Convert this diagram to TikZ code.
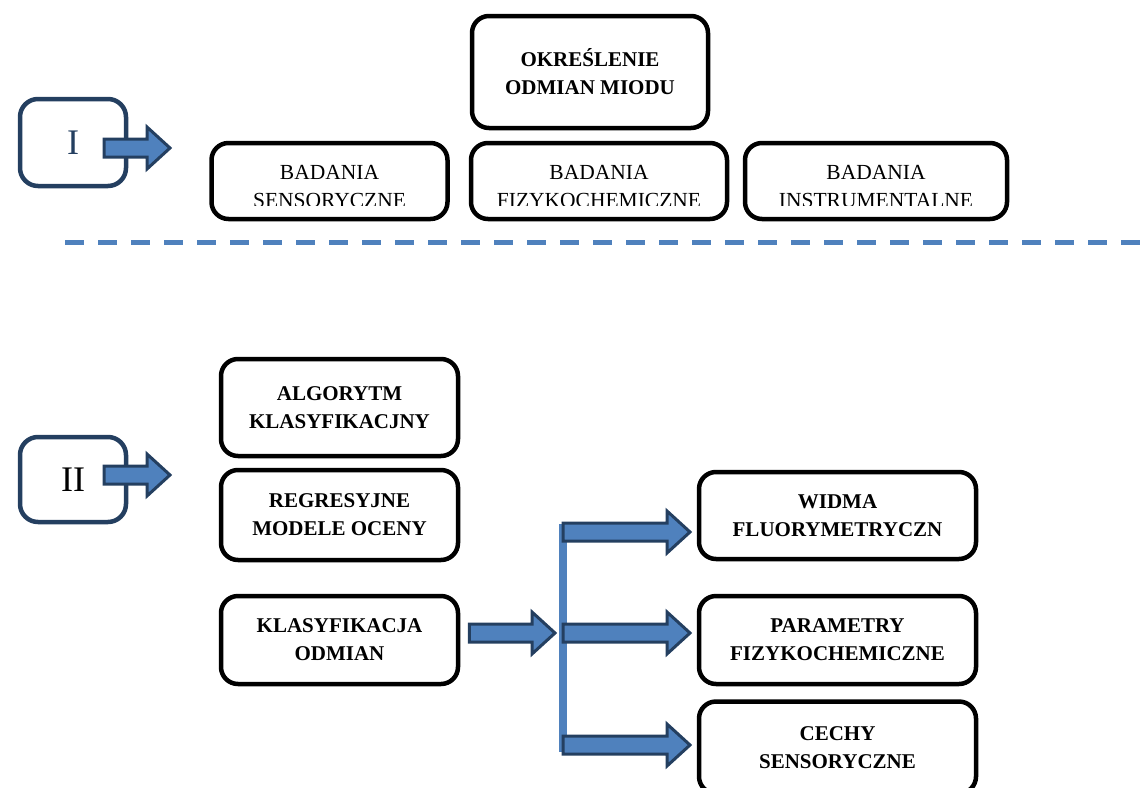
\documentclass[tikz,border=0pt]{standalone}
\usepackage{fontspec}
\setmainfont{Liberation Serif}
\usetikzlibrary{calc}
\definecolor{accentblue}{HTML}{4F81BD}
\definecolor{navyline}{HTML}{243F60}
\tikzset{
  box/.style={draw=black, line width=4.5pt, rounded corners=17pt, align=center, inner sep=0pt,
    font=\bfseries\fontsize{21}{28}\selectfont},
  stagebox/.style={draw=navyline, line width=4.5pt, rounded corners=18pt, inner sep=0pt,
    font=\fontsize{36}{40}\selectfont},
  plaintext/.style={align=center, inner sep=0pt, anchor=north, font=\fontsize{21.5}{28}\selectfont},
  blockarrow/.style={draw=navyline, fill=accentblue, line width=3pt, line join=miter}
}
\newcommand\blockarrow[2]{%
  \draw[blockarrow] ($(#1)+(0,-9)$) -- ($(#2)+(-23,-9)$) -- ($(#2)+(-23,-21)$) -- (#2)
    -- ($(#2)+(-23,21)$) -- ($(#2)+(-23,9)$) -- ($(#1)+(0,9)$) -- cycle;}
\begin{document}
\begin{tikzpicture}[x=1pt,y=-1pt]
\useasboundingbox (0,0) rectangle (1147,787);
% stage I
\node[stagebox, text=navyline, minimum width=106pt, minimum height=87pt] (st1) at (73,142.5) {I};
\coordinate (a1s) at (104,148);
\coordinate (a1e) at (170,148);
\blockarrow{a1s}{a1e}
\node[box, minimum width=236pt, minimum height=112pt] (okr) at (590,72) {OKREŚLENIE\\ODMIAN MIODU};
\node[box, font=\normalfont, minimum width=236pt, minimum height=76pt] (bsen) at (329.5,181) {};
\node[box, font=\normalfont, minimum width=256pt, minimum height=76pt] (bfiz) at (599,181) {};
\node[box, font=\normalfont, minimum width=262pt, minimum height=76pt] (bins) at (876,181) {};
\begin{scope}
  \clip (0,0) rectangle (1147,205);
  \node[plaintext] (tsen) at (bsen.center |- 0,164.7) {BADANIA\\SENSORYCZNE};
  \node[plaintext] (tfiz) at (bfiz.center |- 0,164.7) {BADANIA\\FIZYKOCHEMICZNE};
  \node[plaintext] (tins) at (bins.center |- 0,164.7) {BADANIA\\INSTRUMENTALNE};
\end{scope}
\draw[accentblue, line width=5pt, dash pattern=on 19pt off 14pt] (65,242) -- (1147,242);
% stage II
\node[stagebox, minimum width=106pt, minimum height=85pt] (st2) at (73,479.5) {II};
\coordinate (a2s) at (104,475);
\coordinate (a2e) at (170,475);
\blockarrow{a2s}{a2e}
\node[box, minimum width=237pt, minimum height=97pt] (alg) at (339.5,407.5) {ALGORYTM\\KLASYFIKACJNY};
\node[box, minimum width=237pt, minimum height=90pt] (reg) at (339.5,515) {REGRESYJNE\\MODELE OCENY};
\node[box, minimum width=237pt, minimum height=88pt] (kla) at (339.5,640) {KLASYFIKACJA\\ODMIAN};
\node[box, minimum width=277pt, minimum height=87pt] (wid) at (837.5,515.5) {WIDMA\\FLUORYMETRYCZN};
\node[box, minimum width=277pt, minimum height=88pt] (par) at (837.5,640) {PARAMETRY\\FIZYKOCHEMICZNE};
\node[box, minimum width=277pt, minimum height=92pt] (cec) at (837.5,747.5) {CECHY\\SENSORYCZNE};
\coordinate (btop) at (563,524);
\coordinate (bbot) at (563,752);
\draw[accentblue, line width=8pt] (btop) -- (bbot);
\coordinate (kt) at (555,633);
\coordinate (ks) at ($(kla.east |- kt)+(9,0)$);
\blockarrow{ks}{kt}
\coordinate (w1) at (690,532);
\coordinate (w2) at (690,633);
\coordinate (w3) at (690,745);
\blockarrow{btop |- w1}{w1}
\blockarrow{btop |- w2}{w2}
\blockarrow{btop |- w3}{w3}
\end{tikzpicture}
\end{document}
